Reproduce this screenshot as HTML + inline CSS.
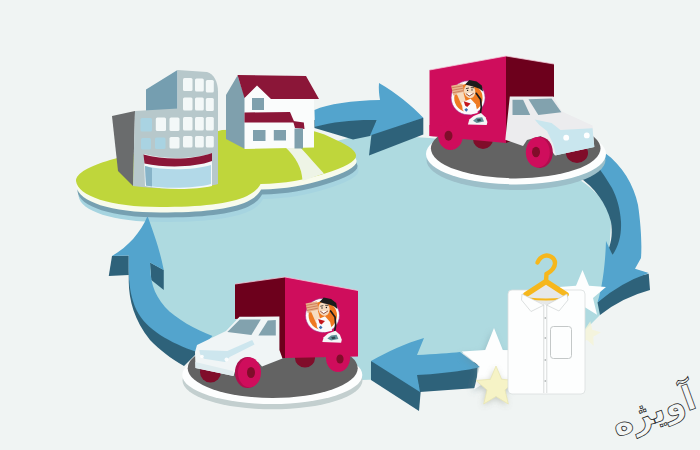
<!DOCTYPE html>
<html lang="fa">
<head>
<meta charset="utf-8">
<title>Laundry cycle</title>
<style>
html,body{margin:0;padding:0;background:#f0f4f3;}
body{width:700px;height:450px;overflow:hidden;font-family:"Liberation Sans","DejaVu Sans",sans-serif;}
svg{display:block;}
</style>
</head>
<body>
<svg width="700" height="450" viewBox="0 0 700 450">
<defs>
<filter id="soft" x="-5%" y="-5%" width="110%" height="110%"><feGaussianBlur stdDeviation="0.5"/></filter>
<filter id="glow" x="-30%" y="-30%" width="160%" height="160%"><feGaussianBlur stdDeviation="3"/></filter>
</defs>
<rect width="700" height="450" fill="#f0f4f3"/>
<g filter="url(#soft)">
<!-- LAKE -->
<g id="lake">
<path d="M148,200 L148,262 C149,285 156,301 170,315 C184,328 198,334 214,340 C250,352 300,372 362,380 L420,378 L465,352 L510,350 L585,330 L600,315 C606,280 610,250 611,222 C608,205 598,192 580,180 L540,150 L430,138 L365,134 L300,150 Z" fill="#aedae0"/>
<path d="M76,181 C78,196 110,207 160,207 C200,207 230,204 247,196 C256,191.5 259,187 260.5,184 C285,183.5 305,180 325,173.5 C345,167 357,161 356,155 C355,149 345,144 332,138 C322,133 312,130 300,128 L222,130 L110,160 C90,166 76,173 76,181 Z" fill="#a6d4e0" transform="translate(2.5,15)"/>
</g>
<!-- LEFT ARROW (up) -->
<g id="arrowLeft">
<path d="M128.75,282 C129,300 134,320 150,340 C160,350 170,358 184,366 L198,352 C178,342 160,330 146,312 C134,296 129,284 128.75,270 Z" fill="#2f627a"/>
<path d="M112,256 L128.75,255.5 L128.75,275 L108.75,276 Z" fill="#2f627a"/>
<path d="M150,262.5 L163.75,270 L163.75,290 L151.25,280 Z" fill="#2f627a"/>
<path d="M147.5,216 C141,232 128,247 112,256 L128.75,255.5 C128,285 131,298 137,311 C146,329 170,343 197,352 L212.5,336 C195,329 176,319 165,307 C153,293 150,280 150,262.5 L163.75,270 C160,250 153,231 147.5,216 Z" fill="#52a4cd"/>
</g>
<!-- TOP ARROW (right) -->
<g id="arrowTop">
<path d="M314.500,120 L380,112 L372,134 L370,136 L353,139.500 L333,133.500 L314.500,128 Z" fill="#2f627a"/>
<path d="M372,130 L422.800,117.600 L423.300,118 L423.300,134.500 L369,155.500 Z" fill="#2f627a"/>
<path d="M314.500,110 C328,104 352,100.500 380,100 C379,94 378.500,88 379,83 C396,93 411,105 423.300,117.800 L370,135.500 L376.700,120 C355,119.500 334,121.500 315,126.700 Z" fill="#52a4cd"/>
</g>
<!-- RIGHT ARROW (down) -->
<g id="arrowRight">
<path d="M578,176 C595,188 606,203 611,222 C612.500,232 612,240 608,251 L612.500,255 L626,250 L626,200 L604,158 Z" fill="#2f627a"/>
<path d="M597.5,302.5 L620,280 L648.75,273.75 L650,290 Q622,297.500 600,315 Z" fill="#2f627a"/>
<path d="M605,153 C622,165 634,185 638,205 C641,225 642,245 641,258 L635,268.75 L648.75,273 Q620,283 597.5,302.5 C603,285 605.500,260 606,241 L612.5,255 C619,245 621.500,235 621,222 C620,208 617,198 612,188 C606,178 602,172 597,166 Z" fill="#52a4cd"/>
</g>
<!-- BOTTOM ARROW (left) -->
<g id="arrowBottom">
<path d="M371,361 L400,368 L421,388 L419,411 L371,380 Z" fill="#2f627a"/>
<path d="M414,368 L478,362 L476,388 L420,392 Z" fill="#2f627a"/>
<path d="M371,361 C388,351.500 405,343.500 424,338 L417,355 C435,354 450,353 460,352 L480,367 C470,370 440,374 417,375 L420,392 Z" fill="#52a4cd"/>
</g>
<!-- HOUSE PLATFORM -->
<g id="platHouse">
<path d="M76,181 C78,196 110,207 160,207 C200,207 230,204 247,196 C256,191.5 259,187 260.5,184 C285,183.5 305,180 325,173.5 C345,167 357,161 356,155 C355,149 345,144 332,138 C322,133 312,130 300,128 L222,130 L110,160 C90,166 76,173 76,181 Z" fill="#76a0b1" transform="translate(1.5,10.5)"/>
<path d="M76,181 C78,196 110,207 160,207 C200,207 230,204 247,196 C256,191.5 259,187 260.5,184 C285,183.5 305,180 325,173.5 C345,167 357,161 356,155 C355,149 345,144 332,138 C322,133 312,130 300,128 L222,130 L110,160 C90,166 76,173 76,181 Z" fill="#f8fbec" transform="translate(0.5,5.5)"/>
<path d="M76,181 C78,196 110,207 160,207 C200,207 230,204 247,196 C256,191.5 259,187 260.5,184 C285,183.5 305,180 325,173.5 C345,167 357,161 356,155 C355,149 345,144 332,138 C322,133 312,130 300,128 L222,130 L110,160 C90,166 76,173 76,181 Z" fill="#bfd63a"/>
<path d="M285,147 L300,147 C310,158 318,167 324,173.5 L302.5,181 C302,168 296,157 285,147 Z" fill="#eef4e6"/>
</g>
<!-- TRUCK PLATFORM TOP-RIGHT -->
<g id="platTR">
<ellipse cx="516" cy="160" rx="89.500" ry="30.100" fill="#9cbfc9"/>
<ellipse cx="516" cy="154" rx="90" ry="30.400" fill="#fdfefe"/>
<ellipse cx="515.700" cy="148.400" rx="84.800" ry="30" fill="#636364"/>
</g>
<!-- TRUCK PLATFORM BOTTOM-LEFT -->
<g id="platBL">
<ellipse cx="272.500" cy="380.500" rx="90" ry="28.800" fill="#c3cfcf"/>
<ellipse cx="272.300" cy="375" rx="90" ry="29" fill="#fdfefe"/>
<ellipse cx="272.700" cy="368.200" rx="85" ry="29.800" fill="#636364"/>
</g>
<g id="office">
<!-- tower left face -->
<path d="M146,89.5 L177.5,70 L177.5,112 L146,112 Z" fill="#749eb0"/>
<!-- tower front -->
<path d="M177.5,70 L207,72 C214,74 218,82 218,92 L218,184 L177.5,188 Z" fill="#b7c8cb"/>
<!-- lower dark left face -->
<path d="M112,116 L135,111 L133,186 L118,171 Z" fill="#6a6c6d"/>
<!-- lower front -->
<path d="M135,111 L178,108.5 L218,110 L218,184 C200,189 160,190 133,186 Z" fill="#b7c8cb"/>
<!-- tower windows -->
<g fill="#f3f8f8">
<rect x="183" y="78" width="9.5" height="13" rx="1.5"/><rect x="195" y="78.5" width="8.8" height="13" rx="1.5"/><rect x="205.8" y="80" width="8" height="12.5" rx="1.5"/>
<rect x="183" y="97.5" width="9.5" height="13" rx="1.5"/><rect x="195" y="97.5" width="8.8" height="13" rx="1.5"/><rect x="205.8" y="98" width="8" height="13" rx="1.5"/>
<rect x="183" y="117" width="9.5" height="13.5" rx="1.5"/><rect x="195" y="117" width="8.8" height="13.5" rx="1.5"/><rect x="205.8" y="117" width="8" height="13.5" rx="1.5"/>
<rect x="183" y="136" width="9.5" height="11.5" rx="1.5"/><rect x="195" y="136" width="8.8" height="11.5" rx="1.5"/><rect x="205.8" y="136" width="8" height="11.5" rx="1.5"/>
<rect x="155.8" y="117.5" width="10.2" height="13.5" rx="1.5"/><rect x="169.5" y="117.5" width="10" height="13.5" rx="1.5"/>
<rect x="169.5" y="137" width="10" height="11.5" rx="1.5"/>
</g>
<g fill="#a9d3e2">
<rect x="140.5" y="118" width="11.5" height="13.5" rx="1.5"/>
<rect x="141" y="138" width="10" height="11.5" rx="1.5"/><rect x="155" y="137.5" width="10.5" height="11.5" rx="1.5"/>
</g>
<!-- entrance -->
<path d="M144,154 C165,160 195,159 212,153 L212,186 C195,190 165,190 145,186 Z" fill="#f4f8f8"/>
<path d="M145,166 C165,171 195,170 211,165 L211,184 C195,188.5 165,189 146,185.5 Z" fill="#b2d9e8"/>
<path d="M145,166 L152,168 L152,186.5 L146,185.5 Z" fill="#86b3c8"/>
<path d="M143.5,154.5 C165,160.5 195,159.5 212,153 L212,161 C195,167.5 165,168 144.5,163.5 Z" fill="#8b1538"/>
</g>
<g id="house">
<path d="M226,95 L237.5,75.5 L245,97.5 L245,149 L226,139 Z" fill="#7fa0ad"/>
<path d="M244.5,97.5 L257,86 L271,99 L314,99 L314,147.5 L244.5,149 Z" fill="#fafcfc"/>
<path d="M237.5,75 L306,76 L319,99 L271,99 L257,85.5 L244.5,98 Z" fill="#8b1538"/>
<rect x="252" y="98" width="12" height="12" fill="#7fa0ad"/>
<path d="M244.5,112.5 L290,112 L294.5,122.5 L244.5,122.5 Z" fill="#8b1538"/>
<path d="M293,121 L303.8,122.5 L304.5,129 L295,128 Z" fill="#8b1538"/>
<rect x="294.5" y="128.5" width="8.5" height="20" fill="#7fa0ad"/>
<rect x="253" y="130" width="12.5" height="11" fill="#7fa0ad"/>
<rect x="273.8" y="130" width="12.2" height="10.5" fill="#7fa0ad"/>
</g>
<!--BUILDINGS_END-->
<g id="truckTR">
<!-- far wheels -->
<ellipse cx="483" cy="139" rx="10" ry="10" fill="#80092a"/>
<ellipse cx="577" cy="153" rx="11" ry="10" fill="#80092a"/>
<!-- box front (maroon) -->
<path d="M506,56 L554,64 L554,97 L511,97 L511,141 L506,143 Z" fill="#6d051e"/>
<!-- box side -->
<path d="M429.5,70 L506,56 L506,143 L429.5,136 Z" fill="#cf0e5c"/>
<path d="M429.5,70 L506,56 L554,64" fill="none" stroke="#f4c6d8" stroke-width="0.8"/>
<!-- rear wheel -->
<ellipse cx="450.500" cy="135.500" rx="12.500" ry="14.500" fill="#cf0e5c"/>
<path d="M429.5,125 L461,127.5 L461,137 L429.5,136 Z" fill="#cf0e5c"/>
<ellipse cx="448.500" cy="135.800" rx="4" ry="5" fill="#80092a"/>
<!-- cab -->
<path d="M509.800,96.500 L553.400,96.500 L562,111.500 L592.500,125.600 L594.300,147 L555,155.500 L541,136 L527,140 L523,146 L505.300,139.800 Z" fill="#ececee"/>
<path d="M534.700,119.400 L551.600,122.900 L560.500,130 L592.500,128.300 L594.300,147 L556,155.300 L553,143.400 L547,131 L539.100,124.700 Z" fill="#c9e6ee"/>
<path d="M512.500,99.800 L523.100,99.800 L530.200,114.900 L512.500,114.900 Z" fill="#82a2ae"/>
<path d="M528.500,99.300 L551.600,98.500 L561.400,112.200 L538.300,114.900 Z" fill="#82a2ae"/>
<circle cx="566.200" cy="137.700" r="2.900" fill="#ffffff"/><circle cx="586.800" cy="135.400" r="2.900" fill="#ffffff"/>
<!-- front wheel -->
<ellipse cx="540" cy="152.300" rx="12.800" ry="15.600" fill="#b00c4e"/>
<ellipse cx="537.800" cy="152.300" rx="12" ry="15.300" fill="#cf0e5c"/>
<ellipse cx="536" cy="152" rx="4" ry="5.2" fill="#80092a"/>
<!-- logo -->
<g id="logo1"><circle cx="468.1" cy="97.8" r="17" fill="#fcfcfc" stroke="#9a2a86" stroke-width="0.6"/>
<circle cx="468.4" cy="98" r="14.2" fill="#ee7a20"/>
<path d="M451.2,85.8 L462.6,83.6 L464.1,93.1 L453.2,95.5 Z" fill="#e8b48c"/>
<path d="M451.6,87.8 L463.0,85.8 M452.0,90.3 L463.2,88.2 M452.5,92.8 L463.6,90.6" stroke="#c9744f" stroke-width="0.8" fill="none"/>
<path d="M456.5,93.6 L463.2,92.1 L466.3,103.1 L461.8,105.6 Z" fill="#f6dcc0"/>
<path d="M461.8,102.4 L470.6,98.7 L475.7,104.3 L477.7,113.1 L470.6,114.6 L465.1,113.4 L462.6,109.5 Z" fill="#fafafa"/>
<path d="M476.2,93.3 L480.6,99.4 L481.3,107.4 L479.9,116.0" fill="none" stroke="#1d1d1d" stroke-width="1.7" stroke-linecap="round"/>
<ellipse cx="469.6" cy="91.2" rx="5.6" ry="7" fill="#f6dcc0" transform="rotate(-12 469.6 91.2)"/>
<path d="M465.1,84.5 L469.3,79.9 L476.7,81.4 L481.8,85.4 L483.0,91.5 L479.4,88.7 L474.8,87.0 L470.0,85.8 Z" fill="#1d1d1d"/>
<path d="M465.9,88.7 L468.9,88.0 M470.8,87.7 L474.0,87.7" stroke="#1d1d1d" stroke-width="0.8" fill="none"/>
<circle cx="467.6" cy="90.4" r="0.7" fill="#1d1d1d"/><circle cx="472.0" cy="89.9" r="0.7" fill="#1d1d1d"/>
<path d="M465.9,93.6 L469.3,96.0 L473.6,93.3" stroke="#7a2a1a" stroke-width="0.8" fill="#ffffff"/>
<path d="M463.8,101.3 L470.6,103.4 L467.1,107.0 L465.1,105.6 Z" fill="#c4161c"/>
<path d="M464.4,109.8 L466.3,108.0 L468.1,109.8 L466.3,111.7 Z" fill="#3a6fb0"/>
<path d="M467.9,124.5 L469.3,119.6 L473.6,116.0 L481.0,113.1 L485.5,117.2 L487.4,122.1 L486.7,125.1 Z" fill="#f4f6f6"/>
<path d="M473.0,120.8 L476.7,117.8 L482.2,117.2 L484.0,121.5 L476.7,122.9 Z" fill="#5f8f96"/>
<path d="M476.7,119.6 L480.3,118.8 L481.3,120.8 L477.9,121.7 Z" fill="#2f4a50"/></g>
</g>
<g id="truckBL">
<!-- far wheels -->
<ellipse cx="210.5" cy="372" rx="10.5" ry="10.5" fill="#80092a"/>
<ellipse cx="305" cy="358" rx="10" ry="9.5" fill="#80092a"/>
<!-- box front maroon -->
<path d="M235,284 L285,277 L285,358 L279,358 L279,317 L235,319 Z" fill="#6d051e"/>
<!-- box side -->
<path d="M285,277 L358,290.500 L358,356.500 L285,358 Z" fill="#cf0e5c"/>
<path d="M235,284 L285,277 L358,290.500" fill="none" stroke="#f4c6d8" stroke-width="0.8"/>
<!-- rear wheel -->
<ellipse cx="338" cy="358" rx="12" ry="14" fill="#cf0e5c"/>
<ellipse cx="340" cy="359" rx="3.6" ry="4.6" fill="#80092a"/>
<!-- cab -->
<path d="M279.400,316.500 L239.500,316.800 L226,331 L197,345 L195,352 L195.500,368 L233.500,376 L238,362 L258,362 L262,366.500 L282.500,358.500 L279.400,350 Z" fill="#f0f5f6"/>
<path d="M199.300,350 L227.300,351 L252.200,340 L254.500,344.500 L229.700,357 L225,362 L204,358.700 L200,354 Z" fill="#cde6ee"/>
<path d="M195.300,362 L233,371 L233.500,376 L195.500,368 Z" fill="#dfecef"/>
<path d="M227.300,332 L239.800,319.500 L260.800,319.500 L251.400,335 Z" fill="#82a2ae"/>
<path d="M258.400,335.600 L267.800,320.600 L275.800,320 L275.800,335.600 Z" fill="#82a2ae"/>
<circle cx="202" cy="356.500" r="1.800" fill="#fff" opacity="0.85"/><circle cx="226.500" cy="359.500" r="2" fill="#fff" opacity="0.85"/>
<!-- front wheel -->
<ellipse cx="247.5" cy="372.5" rx="12.5" ry="15.5" fill="#b00c4e"/>
<ellipse cx="249.5" cy="372.5" rx="11.5" ry="15" fill="#cf0e5c"/>
<ellipse cx="251" cy="372.5" rx="4" ry="5.5" fill="#80092a"/>
<!-- logo -->
<g id="logo2" transform="translate(-145.6,217.6)"><circle cx="468.1" cy="97.8" r="17" fill="#fcfcfc" stroke="#9a2a86" stroke-width="0.6"/>
<circle cx="468.4" cy="98" r="14.2" fill="#ee7a20"/>
<path d="M451.2,85.8 L462.6,83.6 L464.1,93.1 L453.2,95.5 Z" fill="#e8b48c"/>
<path d="M451.6,87.8 L463.0,85.8 M452.0,90.3 L463.2,88.2 M452.5,92.8 L463.6,90.6" stroke="#c9744f" stroke-width="0.8" fill="none"/>
<path d="M456.5,93.6 L463.2,92.1 L466.3,103.1 L461.8,105.6 Z" fill="#f6dcc0"/>
<path d="M461.8,102.4 L470.6,98.7 L475.7,104.3 L477.7,113.1 L470.6,114.6 L465.1,113.4 L462.6,109.5 Z" fill="#fafafa"/>
<path d="M476.2,93.3 L480.6,99.4 L481.3,107.4 L479.9,116.0" fill="none" stroke="#1d1d1d" stroke-width="1.7" stroke-linecap="round"/>
<ellipse cx="469.6" cy="91.2" rx="5.6" ry="7" fill="#f6dcc0" transform="rotate(-12 469.6 91.2)"/>
<path d="M465.1,84.5 L469.3,79.9 L476.7,81.4 L481.8,85.4 L483.0,91.5 L479.4,88.7 L474.8,87.0 L470.0,85.8 Z" fill="#1d1d1d"/>
<path d="M465.9,88.7 L468.9,88.0 M470.8,87.7 L474.0,87.7" stroke="#1d1d1d" stroke-width="0.8" fill="none"/>
<circle cx="467.6" cy="90.4" r="0.7" fill="#1d1d1d"/><circle cx="472.0" cy="89.9" r="0.7" fill="#1d1d1d"/>
<path d="M465.9,93.6 L469.3,96.0 L473.6,93.3" stroke="#7a2a1a" stroke-width="0.8" fill="#ffffff"/>
<path d="M463.8,101.3 L470.6,103.4 L467.1,107.0 L465.1,105.6 Z" fill="#c4161c"/>
<path d="M464.4,109.8 L466.3,108.0 L468.1,109.8 L466.3,111.7 Z" fill="#3a6fb0"/>
<path d="M467.9,124.5 L469.3,119.6 L473.6,116.0 L481.0,113.1 L485.5,117.2 L487.4,122.1 L486.7,125.1 Z" fill="#f4f6f6"/>
<path d="M473.0,120.8 L476.7,117.8 L482.2,117.2 L484.0,121.5 L476.7,122.9 Z" fill="#5f8f96"/>
<path d="M476.7,119.6 L480.3,118.8 L481.3,120.8 L477.9,121.7 Z" fill="#2f4a50"/></g>
</g>
<!--TRUCKS_END-->

<g id="stars1">
<polygon points="494.0,328.0 502.8,349.9 526.3,351.5 508.3,366.6 514.0,389.5 494.0,377.0 474.0,389.5 479.7,366.6 461.7,351.5 485.2,349.9" fill="#6f8f9a" opacity="0.35" filter="url(#glow)" transform="translate(-2,3)"/>
<polygon points="494.0,328.0 502.8,349.9 526.3,351.5 508.3,366.6 514.0,389.5 494.0,377.0 474.0,389.5 479.7,366.6 461.7,351.5 485.2,349.9" fill="#fdfefe"/>
<polygon points="582.5,270.0 589.0,285.8 606.0,287.1 593.0,298.1 597.0,314.7 582.5,305.7 568.0,314.7 572.0,298.1 559.0,287.1 576.0,285.8" fill="#fdfefe"/>
<polygon points="590.3,321.2 592.3,329.8 600.9,332.2 593.3,336.8 593.7,345.7 587.0,339.9 578.6,343.0 582.1,334.8 576.5,327.9 585.4,328.6" fill="#f5f4d6" opacity="0.75"/>
</g>
<g id="stars2">
<polygon points="496.0,366.0 501.6,379.3 516.0,380.5 505.0,389.9 508.3,404.0 496.0,396.5 483.7,404.0 487.0,389.9 476.0,380.5 490.4,379.3" fill="#8a8f80" opacity="0.4" filter="url(#glow)" transform="translate(-1,2)"/>
<polygon points="496.0,366.0 501.6,379.3 516.0,380.5 505.0,389.9 508.3,404.0 496.0,396.5 483.7,404.0 487.0,389.9 476.0,380.5 490.4,379.3" fill="#f6f3c6" stroke="#e9e6b4" stroke-width="0.8"/>
</g>
<g id="shirt">
<rect x="508" y="290" width="77" height="104" rx="4" ry="4" fill="#fdfefe" stroke="#d9dede" stroke-width="0.8"/>
<!-- inner collar -->
<path d="M527,297 L546,282 L564,297 L546,305 Z" fill="#e6e8e8"/>
<!-- placket -->
<path d="M543.8,305 L543.8,393 M546.8,305 L546.8,393" stroke="#c9cdcd" stroke-width="0.7" fill="none"/>
<g fill="#b9bdbd"><circle cx="545.3" cy="318" r="0.9"/><circle cx="545.3" cy="338" r="0.9"/><circle cx="545.3" cy="360" r="0.9"/><circle cx="545.3" cy="381" r="0.9"/></g>
<!-- pocket -->
<rect x="550.5" y="326.5" width="21" height="32" rx="3" fill="#fdfefe" stroke="#c4c8c8" stroke-width="1"/>
<!-- hanger -->
<path d="M546,281 L546.500,274 C551,271.500 555,267.500 555,263 C555,257.500 549,254.500 544,256 C541,257 539,259 537.500,262.500" fill="none" stroke="#f6b71c" stroke-width="4.4" stroke-linecap="round"/>
<path d="M526,294.500 L546,281.500 L566,294.500" fill="none" stroke="#f6b71c" stroke-width="5.6" stroke-linejoin="round" stroke-linecap="round"/>
<path d="M528,298.500 Q546,300.500 564,298.500" fill="none" stroke="#f6b71c" stroke-width="2.2" stroke-linecap="round"/>
<!-- collar -->
<path d="M522,294 L544,305 L531,311.500 L521.500,300 Z" fill="#fdfefe" stroke="#cfd3d3" stroke-width="0.7"/>
<path d="M567,294 L546.500,305 L559,311 L568,300 Z" fill="#fdfefe" stroke="#cfd3d3" stroke-width="0.7"/>
</g>

<!--SHIRT_END-->
</g>
<g id="watermark" font-family="'DejaVu Sans','Liberation Sans',sans-serif">
<text x="653" y="423" font-size="34" font-weight="bold" text-anchor="middle" fill="#f3f6f5" stroke="#1c1c1c" stroke-width="0.75" transform="rotate(-20 653 410)" direction="rtl">آویژه</text>
</g><!--WATERMARK_END-->
</svg>
</body>
</html>
